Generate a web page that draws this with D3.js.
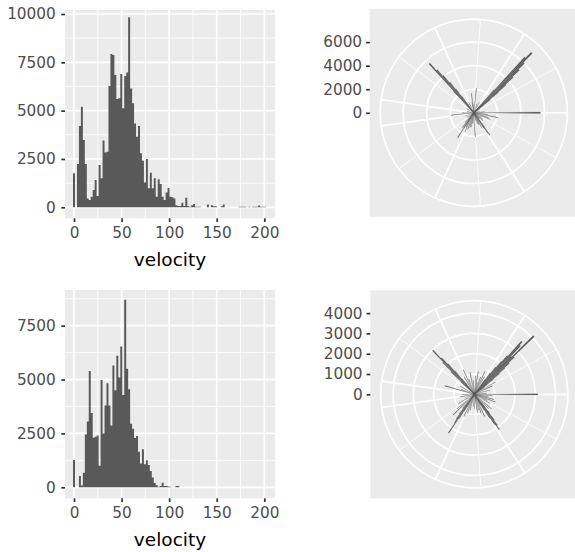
<!DOCTYPE html>
<html lang="en">
<head>
    <meta charset="UTF-8">
    <title>velocity</title>
    <script src="https://d3js.org/d3.v7.min.js"></script>
    <style>
        body { margin: 0; background: #fff; }
        text { font-family: "DejaVu Sans", sans-serif; }
        .tick text { fill: #4d4d4d; font-size: 15.3px; }
        .tick line { stroke: #333; stroke-width: 1.7; }
        .axis-title { fill: #000; font-size: 18.5px; }
    </style>
</head>
<body>
<svg width="575" height="552"></svg>

<script>

    // velocity histograms: bin i is centred at i * velBinWidth
    var velBinWidth = 2.07;
    var velCountsTop = [
        1760, 0, 2240, 4200, 5200, 3480, 2240, 450, 380, 550,
        900, 1410, 590, 2190, 1500, 3450, 2830, 2880, 6280, 7930,
        7880, 6840, 5600, 5640, 6900, 5120, 6790, 6970, 9830, 6150,
        5380, 4340, 3650, 4200, 2790, 2410, 1280, 2500, 980, 1790,
        980, 1500, 550, 1450, 1200, 550, 380, 760, 1000, 550,
        520, 450, 100, 70, 70, 240, 70, 500, 70, 30,
        100, 170, 30, 30, 30, 0, 0, 0, 140, 0,
        100, 60, 60, 0, 0, 60, 140, 0, 0, 0,
        0, 0, 0, 0, 30, 30, 30, 30, 0, 30,
        0, 30, 30, 30, 90, 30, 30, 30, 0, 0
    ];
    var velCountsBottom = [
        1270, 0, 0, 530, 80, 680, 2450, 3050, 5400, 3450,
        2300, 2350, 2400, 1000, 4980, 2500, 3800, 4830, 3800, 2870,
        5650, 4500, 6100, 5100, 6540, 4280, 8700, 5500, 4550, 2950,
        2720, 2290, 2380, 1650, 1110, 1770, 1070, 1250, 1040, 760,
        460, 200, 90, 30, 60, 210, 60, 60, 40, 30,
        0, 0, 60, 60
    ];
    var velTicks = [0, 50, 100, 150, 200];
    var velMinor = [25, 75, 125, 175];
    var countTicksTop = [0, 2500, 5000, 7500, 10000];
    var countTicksBottom = [0, 2500, 5000, 7500];
    var countMinor = [1250, 3750, 6250, 8750];

    // direction histograms (radians, bins of 2*pi/300)
    var dirBinWidth = 2 * Math.PI / 300;
    var dirTop = [
        -2.967, -2.618, -2.346, -2.325, -2.304, -2.283, -2.262, -2.241, -2.220, -2.199,
        -2.178, -2.007, -1.745, -1.693, -1.606, -1.466, -1.222, -1.082, -0.866, -0.845,
        -0.824, -0.803, -0.782, -0.761, -0.740, -0.719, -0.698, -0.677, -0.656, -0.635,
        -0.524, -0.262, -0.087, 0.000, 0.105, 0.192, 0.314, 0.384, 0.489, 0.611,
        0.698, 0.785, 0.904, 0.925, 0.946, 0.967, 0.988, 1.009, 1.082, 1.152,
        1.222, 1.309, 1.510, 1.658, 1.745, 1.833, 1.920, 2.007, 2.059, 2.126,
        2.147, 2.168, 2.189, 2.234, 2.304, 2.409, 2.548, 2.793, 3.037, 3.130
    ];
    var countTop = [
        600, 700, 600, 2500, 5640, 4800, 4100, 3300, 2500, 1700,
        900, 1000, 900, 1660, 700, 2080, 800, 1000, 800, 2600,
        6400, 7060, 6000, 5300, 4500, 3600, 2700, 1800, 1000, 500,
        600, 500, 900, 5650, 1200, 2080, 1300, 1500, 800, 900,
        1000, 700, 700, 1500, 2320, 2100, 1600, 900, 1400, 1100,
        1000, 700, 2040, 900, 1200, 1300, 1500, 1800, 1400, 1200,
        2500, 1500, 800, 1600, 1100, 600, 700, 800, 1930, 1000
    ];
    var dirBottom = [
        -2.862, -2.793, -2.618, -2.391, -2.370, -2.349, -2.328, -2.307, -2.286, -2.265,
        -2.244, -2.223, -2.094, -1.990, -1.920, -1.763, -1.658, -1.484, -1.396, -1.309,
        -1.222, -1.134, -1.047, -0.942, -0.922, -0.901, -0.880, -0.859, -0.838, -0.817,
        -0.796, -0.775, -0.754, -0.733, -0.712, -0.691, -0.670, -0.649, -0.611, -0.524,
        -0.436, -0.262, -0.087, 0.000, 0.087, 0.175, 0.262, 0.349, 0.436, 0.524,
        0.698, 0.785, 0.873, 0.893, 0.914, 0.935, 0.956, 0.977, 0.998, 1.019,
        1.047, 1.134, 1.222, 1.309, 1.396, 1.571, 1.658, 1.833, 1.920, 2.007,
        2.094, 2.115, 2.136, 2.157, 2.178, 2.199, 2.220, 2.269, 2.367, 2.443,
        2.618, 2.793, 2.967, 3.130
    ];
    var countBottom = [
        1500, 700, 800, 900, 1600, 2200, 2980, 2400, 2000, 1500,
        1000, 700, 1000, 1320, 800, 1100, 700, 900, 1140, 600,
        900, 1240, 1000, 900, 1300, 1700, 2100, 2500, 3500, 3300,
        2600, 4100, 2700, 2300, 2000, 1600, 1200, 800, 600, 1200,
        1000, 800, 600, 3130, 900, 700, 1000, 1100, 700, 900,
        1100, 1000, 800, 1200, 1600, 1900, 2130, 1800, 1400, 900,
        600, 1200, 1000, 800, 900, 700, 600, 800, 1000, 1200,
        700, 1000, 1400, 2290, 1700, 1500, 1200, 900, 1460, 1100,
        900, 500, 700, 600
    ];
    var radTicksTop = [0, 2000, 4000, 6000];
    var radTicksBottom = [0, 1000, 2000, 3000, 4000];
    var thetaMajor = [-3, -2, -1, 0, 1, 2, 3];
    var thetaMinor = [-2.5, -1.5, -0.5, 0.5, 1.5, 2.5];

    var svg = d3.select('svg');
    var bg = '#ebebeb';
    var barFill = '#595959';
    var plain = d3.format('d');

    function histogram(top, counts, ticks, yTop, yMax) {
        var left = 65, right = 275, bottom = top + 208.3;
        var base = top + 197.3;
        var x = d3.scaleLinear().domain([0, 200]).range([74, 264.3]);
        var y = d3.scaleLinear().domain([0, yMax]).range([base, yTop]);
        var g = svg.append('g');

        g.append('rect')
            .attr('x', left).attr('y', top)
            .attr('width', right - left).attr('height', bottom - top)
            .attr('fill', bg);

        var yMinor = countMinor.filter(function (v) { return y(v) > top; });
        g.selectAll('.hminor').data(yMinor).enter().append('line')
            .attr('x1', left).attr('x2', right)
            .attr('y1', y).attr('y2', y)
            .attr('stroke', '#fff').attr('stroke-width', 0.85);
        g.selectAll('.vminor').data(velMinor).enter().append('line')
            .attr('x1', x).attr('x2', x)
            .attr('y1', top).attr('y2', bottom)
            .attr('stroke', '#fff').attr('stroke-width', 0.85);
        g.selectAll('.hmajor').data(ticks).enter().append('line')
            .attr('x1', left).attr('x2', right)
            .attr('y1', y).attr('y2', y)
            .attr('stroke', '#fff').attr('stroke-width', 1.7);
        g.selectAll('.vmajor').data(velTicks).enter().append('line')
            .attr('x1', x).attr('x2', x)
            .attr('y1', top).attr('y2', bottom)
            .attr('stroke', '#fff').attr('stroke-width', 1.7);

        // bars as one stepped outline, so adjacent bins show no seams
        var edges = counts.map(function (c, i) { return {x0: i * velBinWidth - velBinWidth / 2, n: c}; });
        edges.push({x0: counts.length * velBinWidth - velBinWidth / 2, n: 0});
        var area = d3.area()
            .curve(d3.curveStepAfter)
            .x(function (d) { return x(d.x0); })
            .y0(y(0))
            .y1(function (d) { return y(d.n); });
        g.append('path')
            .datum(edges)
            .attr('d', area)
            .attr('fill', barFill);

        var yAxis = g.append('g')
            .attr('transform', 'translate(' + left + ',0)')
            .call(d3.axisLeft(y).tickValues(ticks).tickFormat(plain)
                .tickSize(3.7).tickPadding(5.5).tickSizeOuter(0));
        var xAxis = g.append('g')
            .attr('transform', 'translate(0,' + bottom + ')')
            .call(d3.axisBottom(x).tickValues(velTicks).tickFormat(plain)
                .tickSize(3.7).tickPadding(5.3).tickSizeOuter(0));
        [yAxis, xAxis].forEach(function (a) {
            a.attr('font-family', null).attr('font-size', null);
            a.select('.domain').remove();
        });

        g.append('text')
            .attr('class', 'axis-title')
            .attr('x', (left + right) / 2)
            .attr('y', bottom + 47.4)
            .attr('text-anchor', 'middle')
            .text('velocity');
    }

    function polar(cx, cy, dirs, counts, ticks) {
        var W = 208;
        var data = dirs.map(function (d, i) { return {dir: d, n: counts[i]}; });
        var r = d3.scaleLinear().domain([0, d3.max(counts)]).range([0, 0.4 * W]);
        var theta = d3.scaleLinear().domain([-Math.PI, Math.PI]).range([1.5 * Math.PI, 3.5 * Math.PI]);
        var outer = 0.45 * W;
        var g = svg.append('g');

        g.append('rect')
            .attr('x', cx - W / 2).attr('y', cy - W / 2)
            .attr('width', W).attr('height', W)
            .attr('fill', bg);

        var spokes = thetaMinor.map(function (b) { return {b: b, w: 0.85}; })
            .concat(thetaMajor.map(function (b) { return {b: b, w: 1.7}; }));
        g.selectAll('.spoke').data(spokes).enter().append('line')
            .attr('x1', cx).attr('y1', cy)
            .attr('x2', function (d) { return cx + outer * Math.sin(theta(d.b)); })
            .attr('y2', function (d) { return cy - outer * Math.cos(theta(d.b)); })
            .attr('stroke', '#fff').attr('stroke-width', function (d) { return d.w; });

        var rings = ticks.map(r).concat([outer]);
        g.selectAll('.ring').data(rings).enter().append('circle')
            .attr('cx', cx).attr('cy', cy).attr('r', function (d) { return d; })
            .attr('fill', 'none').attr('stroke', '#fff').attr('stroke-width', 1.7);

        var arc = d3.arc()
            .innerRadius(0)
            .outerRadius(function (d) { return r(d.n); })
            .startAngle(function (d) { return theta(d.dir - dirBinWidth / 2); })
            .endAngle(function (d) { return theta(d.dir + dirBinWidth / 2); });
        g.append('g')
            .attr('transform', 'translate(' + cx + ',' + cy + ')')
            .selectAll('path').data(data).enter().append('path')
            .attr('d', arc)
            .attr('fill', barFill)
            .attr('stroke', barFill)
            .attr('stroke-opacity', 0.6)
            .attr('stroke-width', 0.3);

        var ry = d3.scaleLinear().domain(r.domain()).range([cy, cy - 0.4 * W]);
        var axis = g.append('g')
            .attr('transform', 'translate(' + (cx - W / 2) + ',0)')
            .call(d3.axisLeft(ry).tickValues(ticks).tickFormat(plain)
                .tickSize(3.7).tickPadding(4).tickSizeOuter(0));
        axis.attr('font-family', null).attr('font-size', null);
        axis.select('.domain').remove();
    }

    histogram(10, velCountsTop, countTicksTop, 14, 10000);
    histogram(290, velCountsBottom, countTicksBottom, 325.7, 7500);
    polar(473.8, 112.8, dirTop, countTop, radTicksTop);
    polar(474.3, 394.3, dirBottom, countBottom, radTicksBottom);

</script>
</body>
</html>
